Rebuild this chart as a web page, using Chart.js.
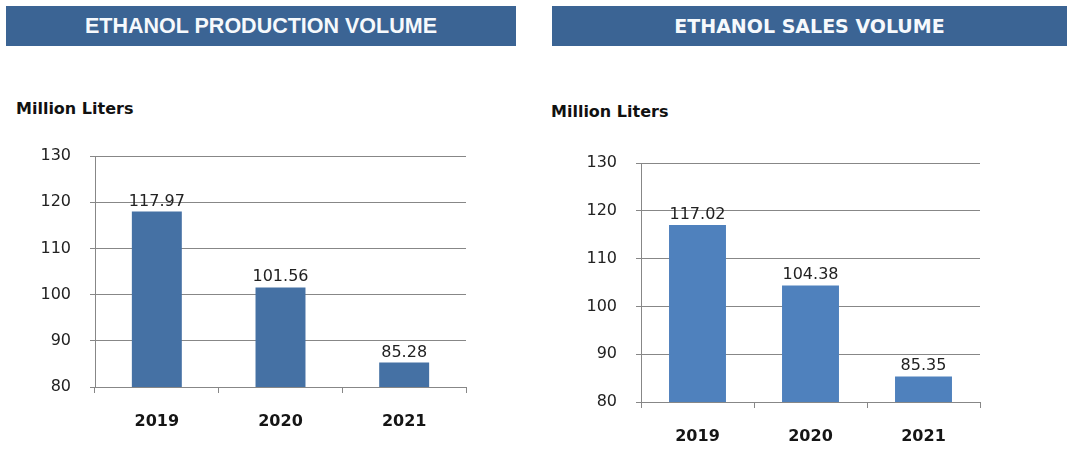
<!DOCTYPE html>
<html>
<head>
<meta charset="utf-8">
<script src="https://cdn.jsdelivr.net/npm/chart.js@4/dist/chart.umd.min.js"></script>
<style>
  body { margin: 0; background: #fff; width: 1067px; height: 451px; position: relative; overflow: hidden; }
  .banner { position: absolute; top: 6px; height: 40px; line-height: 40px; background: #3b6494; color: #f6f9fc; text-align: center; font-weight: bold; }
  .unit { position: absolute; font-family: "DejaVu Sans", sans-serif; font-weight: bold; font-size: 16px; line-height: 16px; color: #111; }
  canvas { position: absolute; }
</style>
</head>
<body>
<div class="banner" style="left:6px;width:510px;font-family:'Liberation Sans',Arial,sans-serif;font-size:21.5px;">ETHANOL PRODUCTION VOLUME</div>
<div class="banner" style="left:552px;width:515px;font-family:'DejaVu Sans',sans-serif;font-size:19px;">ETHANOL SALES VOLUME</div>
<div class="unit" style="left:16px;top:101px;">Million Liters</div>
<div class="unit" style="left:551px;top:104px;">Million Liters</div>
<canvas id="prodChart" width="480" height="320" style="left:0;top:130px;"></canvas>
<canvas id="salesChart" width="527" height="311" style="left:540px;top:140px;"></canvas>
<script>
var years = ['2019', '2020', '2021'];
var productionVolume = [117.97, 101.56, 85.28];
var salesVolume = [117.02, 104.38, 85.35];
var axisMin = 80;
var axisMax = 130;
var axisStep = 10;

var gridColor = '#878787';

// draws the value above each bar
var valueLabels = {
  id: 'valueLabels',
  afterDatasetsDraw: function(chart) {
    var ctx = chart.ctx;
    var ds = chart.data.datasets[0];
    var meta = chart.getDatasetMeta(0);
    ctx.save();
    ctx.font = '16px "DejaVu Sans"';
    ctx.fillStyle = '#222';
    ctx.textAlign = 'center';
    ctx.textBaseline = 'alphabetic';
    for (var i = 0; i < meta.data.length; i++) {
      var bar = meta.data[i];
      ctx.fillText(ds.data[i].toFixed(2), bar.x, bar.y - 6);
    }
    ctx.restore();
  }
};

function makeChart(id, values, color, barPct, pad, yWidth, xHeight) {
  var ctx = document.getElementById(id).getContext('2d');
  return new Chart(ctx, {
    type: 'bar',
    data: {
      labels: years,
      datasets: [{
        data: values,
        backgroundColor: color,
        borderWidth: 0,
        categoryPercentage: 1,
        barPercentage: barPct
      }]
    },
    options: {
      responsive: false,
      animation: false,
      devicePixelRatio: 1,
      layout: { padding: pad },
      plugins: { legend: { display: false }, tooltip: { enabled: false } },
      scales: {
        x: {
          offset: true,
          grid: { offset: true, drawOnChartArea: false, drawTicks: true, tickLength: 6, color: gridColor },
          border: { color: gridColor },
          ticks: {
            font: { family: 'DejaVu Sans', size: 16, weight: 'bold' },
            color: '#151515',
            padding: 19,
            maxRotation: 0
          },
          afterFit: function(s) { s.height = xHeight; }
        },
        y: {
          min: axisMin,
          max: axisMax,
          ticks: {
            stepSize: axisStep,
            font: { family: 'DejaVu Sans', size: 16 },
            color: '#222',
            padding: 19
          },
          grid: { color: gridColor, tickLength: 5 },
          border: { color: gridColor },
          afterFit: function(s) {
            s.width = yWidth;
            s.paddingTop = 0;
            s.paddingBottom = 0;
          }
        }
      }
    },
    plugins: [valueLabels]
  });
}

makeChart('prodChart', productionVolume, '#4571a4', 0.404, { top: 26, right: 14, left: 0, bottom: 0 }, 95, 63);
makeChart('salesChart', salesVolume, '#4f81bd', 0.504, { top: 23, right: 87, left: 0, bottom: 0 }, 101, 49);
</script>
</body>
</html>
